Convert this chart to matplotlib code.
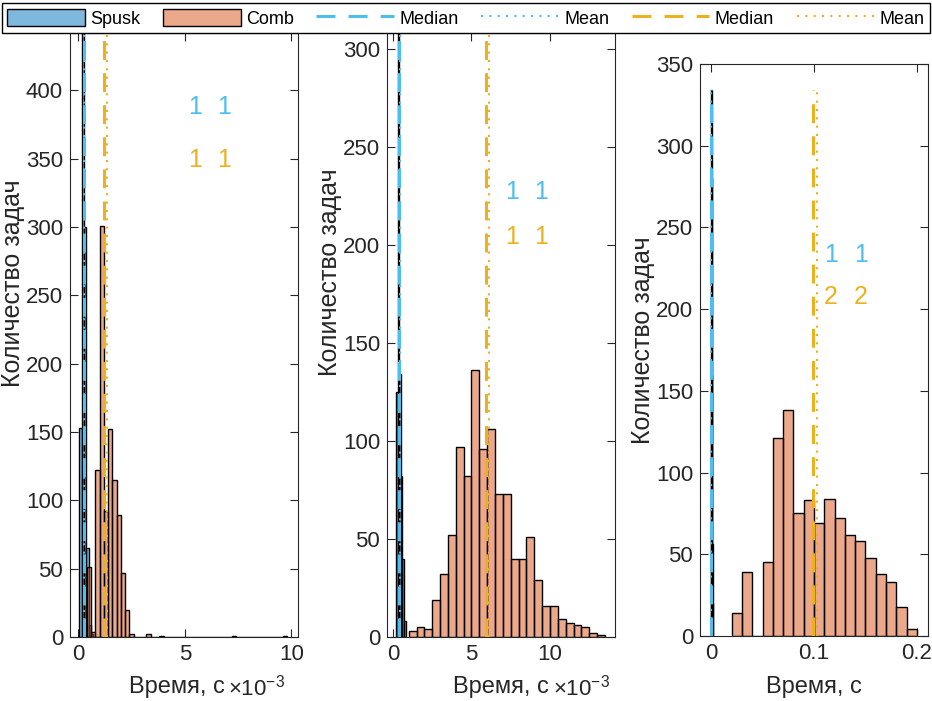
import numpy as np
import matplotlib
matplotlib.use("Agg")
import matplotlib.pyplot as plt
from matplotlib.lines import Line2D
from matplotlib.patches import Patch

plt.rcParams['font.family'] = ['Liberation Sans', 'DejaVu Sans']
plt.rcParams['mathtext.fontset'] = 'custom'
plt.rcParams['mathtext.rm'] = 'Liberation Sans'
plt.rcParams['mathtext.it'] = 'Liberation Sans:italic'

# ---------------- data ----------------
# Panel 1 (time in 1e-3 s)
p1_spusk_start, p1_spusk_width = 0.05, 0.11
p1_spusk_counts = [153, 471, 300, 65, 9, 2]
p1_comb_start, p1_comb_width = 0.4, 0.2
p1_comb_counts = [51, 4, 122, 301, 92, 152, 115, 89, 47, 20, 2,
                  0, 0, 0, 2, 0, 0, 1,
                  0, 0, 0, 0, 0, 0, 0, 0, 0, 0, 0, 0, 0, 0, 0, 0,
                  1, 0, 0, 0, 0, 0, 0, 0, 0, 0, 0, 0, 1]
p1_spusk_median, p1_spusk_mean = 0.25, 0.28
p1_comb_median, p1_comb_mean = 1.21, 1.33
p1_spusk_label = ["1", "1"]
p1_comb_label = ["1", "1"]

# Panel 2 (time in 1e-3 s)
p2_spusk_start, p2_spusk_width = 0.2, 0.1
p2_spusk_counts = [125, 611, 134, 82, 40, 8]
p2_comb_start, p2_comb_width = 1.0, 0.5
p2_comb_counts = [3, 5, 4, 19, 32, 52, 97, 82, 136, 96, 106, 73, 73,
                  40, 40, 51, 29, 16, 16, 9, 7, 6, 5, 2, 1]
p2_spusk_median, p2_spusk_mean = 0.38, 0.42
p2_comb_median, p2_comb_mean = 5.90, 6.09
p2_spusk_label = ["1", "1"]
p2_comb_label = ["1", "1"]

# Panel 3 (time in s)
p3_spusk_start, p3_spusk_width = 0.0, 0.0003
p3_spusk_counts = [150, 334, 280, 160, 56, 20]
p3_comb_start, p3_comb_width = 0.02, 0.01
p3_comb_counts = [14, 39, 0, 45, 121, 138, 75, 83, 69, 84, 72, 62, 58,
                  48, 38, 33, 18, 4]
p3_spusk_median, p3_spusk_mean = 0.0003, 0.0004
p3_comb_median, p3_comb_mean = 0.0988, 0.1026
p3_spusk_label = ["1", "1"]
p3_comb_label = ["2", "2"]

x_ticks = [[0, 5, 10], [0, 5, 10], [0, 0.1, 0.2]]
x_ticklabels = [["0", "5", "10"], ["0", "5", "10"], ["0", "0.1", "0.2"]]
y_ticks = [np.arange(0, 401, 50), np.arange(0, 301, 50), np.arange(0, 351, 50)]
xlims = [(-0.39, 10.31), (-0.38, 14.14), (-0.0107, 0.2107)]
ylims = [(0, 442), (0, 308), (0, 350)]
label_x = [(5.48, 6.84), (7.58, 9.43), (0.1165, 0.1456)]
label_y = [(387.6, 348.8), (227, 204), (233, 207.5)]
x_scale_text = ["×10$^{-3}$", "×10$^{-3}$", None]

# ---------------- style / layout ----------------
SPUSK_FACE = (0.0, 0.447, 0.741, 0.5)
COMB_FACE = (0.85, 0.325, 0.098, 0.5)
BLUE_LINE = '#4DBEEE'
YELLOW_LINE = '#EDB120'
AX_COLOR = '#262626'
MED_LW, MEAN_LW = 2.2, 1.5
MED_DASH = (0, (6.2, 4.3))
MEAN_DASH = (0, (1.0, 3.0))
xlabel_pos = [(0.47, -0.083), (0.50, -0.083), (0.50, -0.089)]
ylabel_pos = [(-0.252, 0.586), (-0.25, 0.604), (-0.25, 0.517)]
scale_text_x = [0.695, 0.728, None]

panels = [
    (p1_spusk_start, p1_spusk_width, p1_spusk_counts, p1_comb_start, p1_comb_width, p1_comb_counts,
     p1_spusk_median, p1_spusk_mean, p1_comb_median, p1_comb_mean, p1_spusk_label, p1_comb_label),
    (p2_spusk_start, p2_spusk_width, p2_spusk_counts, p2_comb_start, p2_comb_width, p2_comb_counts,
     p2_spusk_median, p2_spusk_mean, p2_comb_median, p2_comb_mean, p2_spusk_label, p2_comb_label),
    (p3_spusk_start, p3_spusk_width, p3_spusk_counts, p3_comb_start, p3_comb_width, p3_comb_counts,
     p3_spusk_median, p3_spusk_mean, p3_comb_median, p3_comb_mean, p3_spusk_label, p3_comb_label),
]

W, H = 932, 701
fig = plt.figure(figsize=(W / 100, H / 100), dpi=100)
axes_px = [(70, 298, 33, 637), (387, 615, 33, 637), (700, 928, 64, 636)]

for i, (ss, sw, sc, cs, cw, cc, smed, smean, cmed, cmean, slab, clab) in enumerate(panels):
    l, r, t, b = axes_px[i]
    ax = fig.add_axes([l / W, 1 - b / H, (r - l) / W, (b - t) / H])
    sx = ss + sw * np.arange(len(sc))
    cx = cs + cw * np.arange(len(cc))
    ax.bar(sx, sc, width=sw, align='edge', facecolor=SPUSK_FACE, edgecolor='black', linewidth=1.0, zorder=2)
    ax.bar(cx, cc, width=cw, align='edge', facecolor=COMB_FACE, edgecolor='black', linewidth=1.0, zorder=2)
    ytop = max(sc)
    ax.vlines(smed, 0, ytop, colors=BLUE_LINE, linestyles=MED_DASH, linewidth=MED_LW, zorder=3)
    ax.vlines(smean, 0, ytop, colors=BLUE_LINE, linestyles=MEAN_DASH, linewidth=MEAN_LW, zorder=3)
    ax.vlines(cmed, 0, ytop, colors=YELLOW_LINE, linestyles=MED_DASH, linewidth=MED_LW, zorder=3)
    ax.vlines(cmean, 0, ytop, colors=YELLOW_LINE, linestyles=MEAN_DASH, linewidth=MEAN_LW, zorder=3)
    for k in range(2):
        ax.text(label_x[i][k], label_y[i][0], slab[k], color=BLUE_LINE, fontsize=18,
                ha='center', va='center', zorder=4)
        ax.text(label_x[i][k], label_y[i][1], clab[k], color=YELLOW_LINE, fontsize=18,
                ha='center', va='center', zorder=4)
    ax.set_xlim(*xlims[i])
    ax.set_ylim(*ylims[i])
    ax.set_xticks(x_ticks[i])
    ax.set_xticklabels(x_ticklabels[i])
    ax.set_yticks(y_ticks[i])
    ax.tick_params(direction='in', length=6, width=0.8, colors=AX_COLOR, labelsize=16,
                   top=True, right=True, pad=5)
    for sp in ax.spines.values():
        sp.set_color(AX_COLOR)
        sp.set_linewidth(0.8)
    ax.set_xlabel('Время, с', fontsize=17, color=AX_COLOR)
    ax.xaxis.set_label_coords(*xlabel_pos[i], transform=ax.transAxes)
    ax.xaxis.label.set_va('center')
    ax.set_ylabel('Количество задач', fontsize=18, color=AX_COLOR)
    ax.yaxis.set_label_coords(*ylabel_pos[i], transform=ax.transAxes)
    ax.yaxis.label.set_va('center')
    if x_scale_text[i]:
        ax.text(scale_text_x[i], -0.083, x_scale_text[i], transform=ax.transAxes, fontsize=16,
                color=AX_COLOR, ha='left', va='center')

handles = [
    Patch(facecolor=SPUSK_FACE, edgecolor='black', linewidth=1.0, label='Spusk'),
    Patch(facecolor=COMB_FACE, edgecolor='black', linewidth=1.0, label='Comb'),
    Line2D([], [], color=BLUE_LINE, linestyle=MED_DASH, linewidth=MED_LW, label='Median'),
    Line2D([], [], color=BLUE_LINE, linestyle=MEAN_DASH, linewidth=MEAN_LW, label='Mean'),
    Line2D([], [], color=YELLOW_LINE, linestyle=MED_DASH, linewidth=MED_LW, label='Median'),
    Line2D([], [], color=YELLOW_LINE, linestyle=MEAN_DASH, linewidth=MEAN_LW, label='Mean'),
]
leg = fig.legend(handles=handles, ncol=6, loc='lower left',
                 bbox_to_anchor=(2 / W, 1 - 33 / H, 928 / W, 30 / H), mode='expand',
                 borderaxespad=0, fontsize=13, handlelength=4.3, handleheight=1.1,
                 handletextpad=0.3, borderpad=0.3, frameon=True, fancybox=False,
                 framealpha=1, edgecolor='black')
leg.get_frame().set_linewidth(1.0)

fig.savefig('out.png', dpi=100)
